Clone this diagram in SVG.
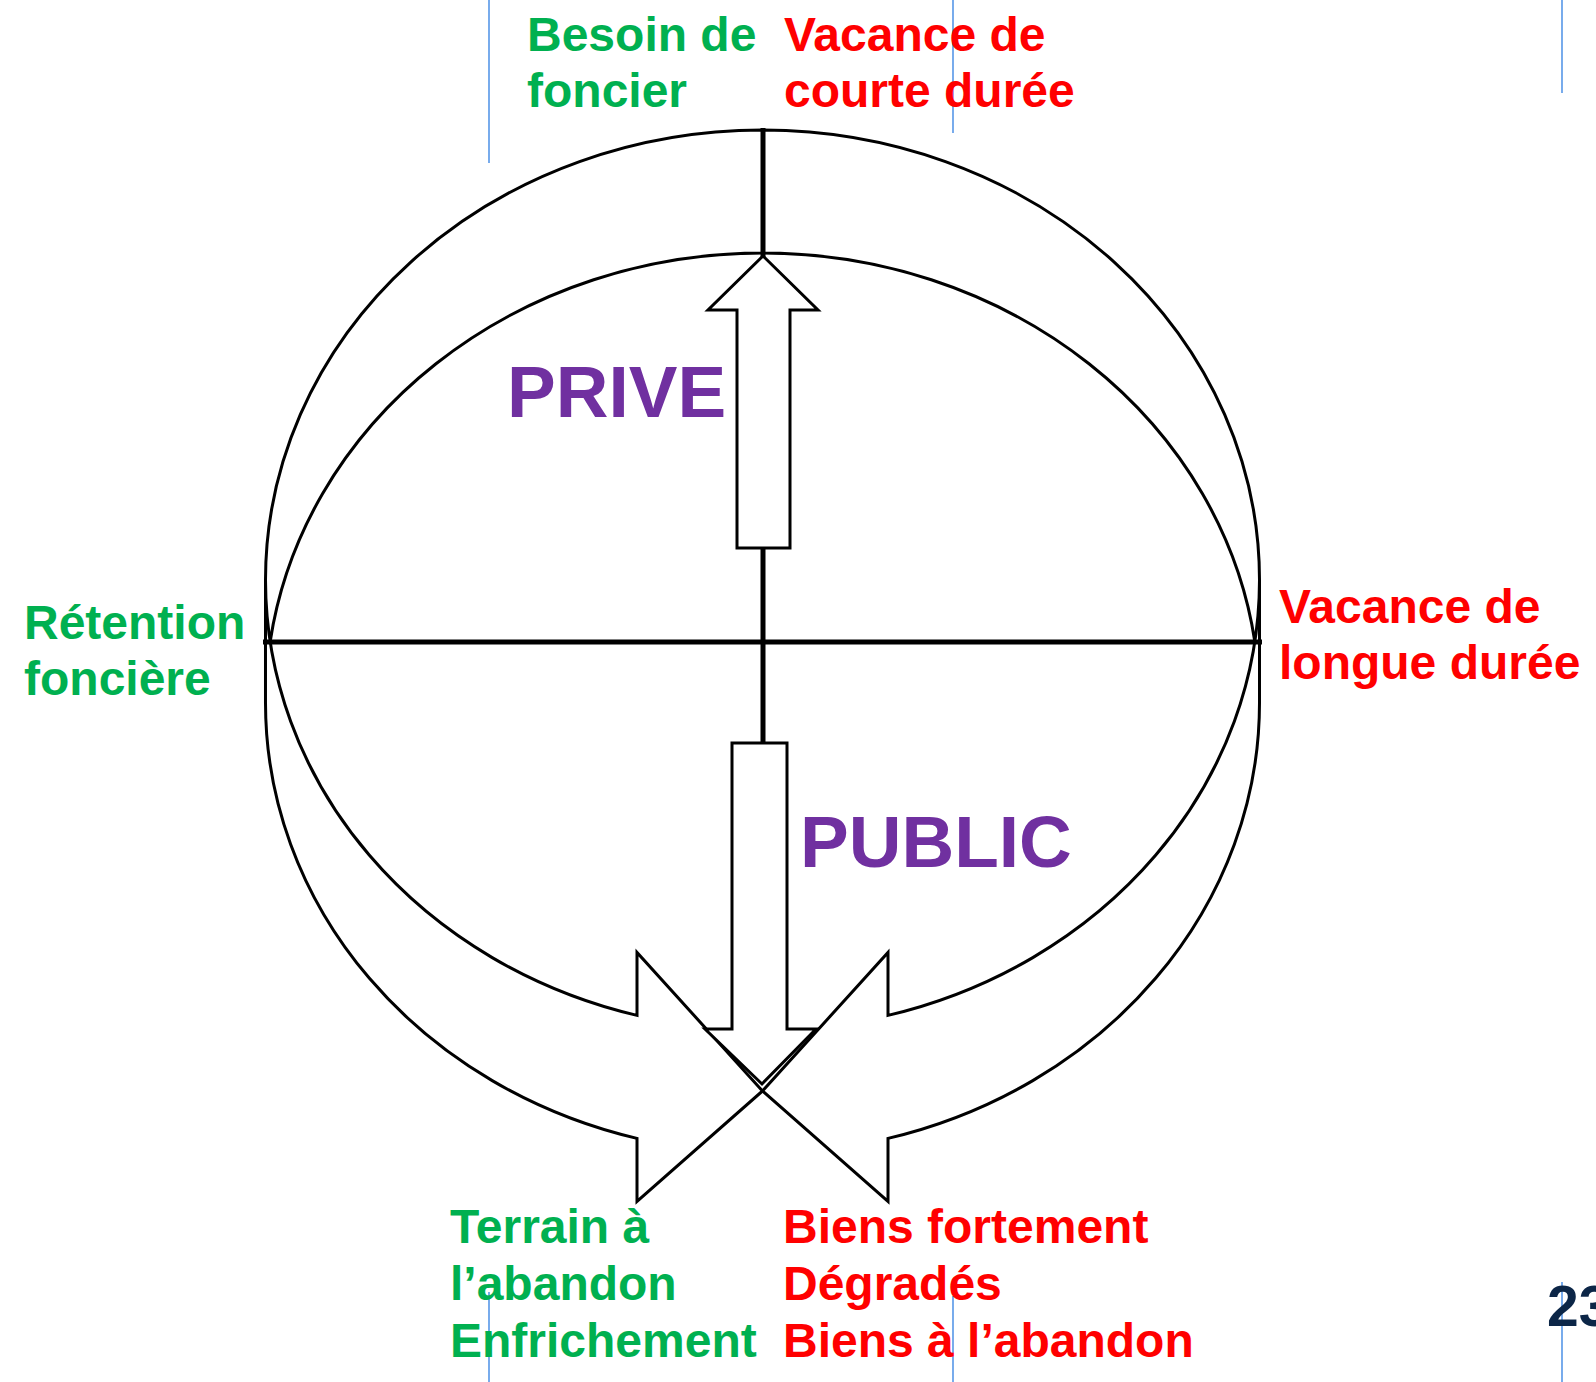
<svg xmlns="http://www.w3.org/2000/svg" width="1596" height="1382" viewBox="0 0 1596 1382">
  <style>
    .lbl { font-family: "Liberation Sans", Arial, sans-serif; font-weight: bold; font-size: 48px; }
    .green { fill: #00B050; }
    .red { fill: #FF0000; }
    .big { font-family: "Liberation Sans", Arial, sans-serif; font-weight: bold; font-size: 73px; fill: #7030A0; }
    .outline { fill: none; stroke: #000; stroke-width: 3; stroke-linejoin: miter; }
    .block { fill: #fff; stroke: #000; stroke-width: 3; stroke-linejoin: miter; }
    .axis { stroke: #000; stroke-width: 5; fill: none; }
    .guide { stroke: #1f74e0; stroke-width: 1.2; }
  </style>
  <defs>
    <path id="curvedArrow" d="M265.5,580 A497,450 0 0 0 637,1015.4 L637,952.4 L762.5,1091 L637,1201.4 L637,1138.4 A497,450 0 0 1 265.5,703 L265.5,580 A497,450 0 0 1 762.5,130 L762.5,253 A497,450 0 0 0 270.2,641.5"/>
  </defs>
  <rect width="1596" height="1382" fill="#fff"/>

  <g id="guides">
    <line class="guide" x1="489" y1="0" x2="489" y2="163"/>
    <line class="guide" x1="953" y1="0" x2="953" y2="133"/>
    <line class="guide" x1="1562" y1="0" x2="1562" y2="93"/>
    <line class="guide" x1="489" y1="1292" x2="489" y2="1382"/>
    <line class="guide" x1="953" y1="1296" x2="953" y2="1382"/>
    <line class="guide" x1="1562" y1="1282" x2="1562" y2="1382"/>
  </g>

  <g id="connectors">
    <use id="left-curved-arrow" href="#curvedArrow" class="outline"/>
    <use id="right-curved-arrow" href="#curvedArrow" class="outline" transform="translate(1525,0) scale(-1,1)"/>
    <line class="axis" x1="263" y1="642" x2="1262" y2="642"/>
    <line class="axis" x1="763" y1="128" x2="763" y2="745"/>
    <polygon id="up-arrow" class="block" points="763,256 818,310 790,310 790,548 737,548 737,310 708,310"/>
    <polygon id="down-arrow" class="block" points="732,743 787,743 787,1029 816,1029 762,1084 705,1029 732,1029"/>
  </g>

  <g id="besoin-foncier">
    <text class="lbl green" x="527" y="51">Besoin de</text>
    <text class="lbl green" x="527" y="107">foncier</text>
  </g>
  <g id="vacance-courte">
    <text class="lbl red" x="784" y="51">Vacance de</text>
    <text class="lbl red" x="784" y="107">courte durée</text>
  </g>
  <g id="retention-fonciere">
    <text class="lbl green" x="24" y="639">Rétention</text>
    <text class="lbl green" x="24" y="695">foncière</text>
  </g>
  <g id="vacance-longue">
    <text class="lbl red" x="1279" y="623">Vacance de</text>
    <text class="lbl red" x="1279" y="679">longue durée</text>
  </g>
  <g id="prive">
    <text class="big" x="507" y="417">PRIVE</text>
  </g>
  <g id="public">
    <text class="big" x="800" y="867">PUBLIC</text>
  </g>
  <g id="terrain-abandon">
    <text class="lbl green" x="450" y="1243">Terrain à</text>
    <text class="lbl green" x="450" y="1300">l’abandon</text>
    <text class="lbl green" x="450" y="1357">Enfrichement</text>
  </g>
  <g id="biens-degrades">
    <text class="lbl red" x="783" y="1243">Biens fortement</text>
    <text class="lbl red" x="783" y="1300">Dégradés</text>
    <text class="lbl red" x="783" y="1357">Biens à l’abandon</text>
  </g>
  <g id="page-number">
    <text x="1547" y="1326" style="font-family: 'Liberation Sans', Arial, sans-serif; font-weight: bold; font-size: 57px; fill: #0c2647;">23</text>
  </g>
</svg>
